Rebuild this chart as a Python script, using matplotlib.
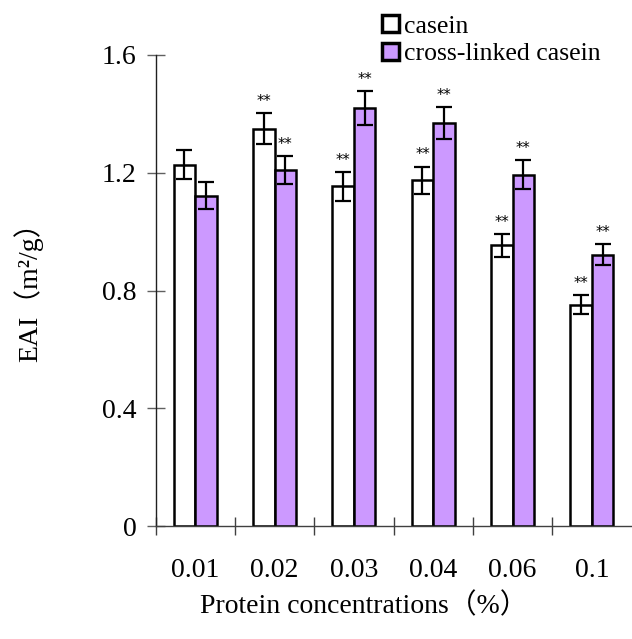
import matplotlib
matplotlib.use("Agg")
import matplotlib.pyplot as plt
import numpy as np

categories = ["0.01", "0.02", "0.03", "0.04", "0.06", "0.1"]
casein = [1.228, 1.349, 1.154, 1.174, 0.953, 0.752]
casein_err = [0.050, 0.053, 0.049, 0.047, 0.040, 0.033]
crosslinked = [1.122, 1.209, 1.419, 1.370, 1.194, 0.922]
crosslinked_err = [0.046, 0.047, 0.058, 0.054, 0.050, 0.037]
casein_sig = ["", "**", "**", "**", "**", "**"]
crosslinked_sig = ["", "**", "**", "**", "**", "**"]
yticks = [0, 0.4, 0.8, 1.2, 1.6]
ytick_labels = ["0", "0.4", "0.8", "1.2", "1.6"]

FONT = ["Liberation Serif", "Noto Sans CJK SC"]
plt.rcParams["font.family"] = FONT

fig = plt.figure(figsize=(6.32, 6.39), dpi=100)
ax = fig.add_axes([155.5 / 632, 113 / 639, 476 / 632, 471 / 639])

x = np.arange(len(categories))
w = 0.27
b1 = ax.bar(x - w / 2, casein, w, color="white", edgecolor="black", linewidth=1.8,
            label="casein", zorder=2)
b2 = ax.bar(x + w / 2, crosslinked, w, color="#CC99FF", edgecolor="black", linewidth=1.8,
            label="cross-linked casein", zorder=2)
ax.errorbar(x - w / 2, casein, yerr=casein_err, fmt="none", ecolor="black",
            elinewidth=1.6, capsize=5.8, capthick=1.6, zorder=3)
ax.errorbar(x + w / 2, crosslinked, yerr=crosslinked_err, fmt="none", ecolor="black",
            elinewidth=1.6, capsize=5.8, capthick=1.6, zorder=3)

for xi, v, e, s in zip(x - w / 2, casein, casein_err, casein_sig):
    if s:
        ax.text(xi, v + e + 0.014, s, ha="center", va="bottom", fontsize=10.5,
                family="DejaVu Sans")
for xi, v, e, s in zip(x + w / 2, crosslinked, crosslinked_err, crosslinked_sig):
    if s:
        ax.text(xi, v + e + 0.014, s, ha="center", va="bottom", fontsize=10.5,
                family="DejaVu Sans")

ax.set_xlim(-0.5, len(categories) - 0.5)
ax.set_ylim(0, 1.6)
ax.set_yticks(yticks)
ax.set_yticklabels(ytick_labels, fontsize=20)
ax.set_xticks(x)
ax.set_xticklabels(categories, fontsize=20)
ax.tick_params(axis="x", which="major", length=0, pad=23)
ax.set_xticks(np.arange(-0.5, len(categories) - 0.5, 1.0), minor=True)
ax.tick_params(axis="x", which="minor", direction="inout", length=13, width=1,
               color="#404040")
ax.tick_params(axis="y", direction="inout", length=13.5, width=1, color="#606060", pad=7)

for sp in ["top", "right"]:
    ax.spines[sp].set_visible(False)
ax.spines["left"].set_color("#202020")
ax.spines["bottom"].set_color("#404040")
ax.spines["left"].set_linewidth(1.0)
ax.spines["bottom"].set_linewidth(1.0)

fig.text(364 / 632, 1 - 606 / 639, "Protein concentrations（%）", ha="center",
         va="center", fontsize=20)
fig.text(28 / 632, 1 - 285 / 639, "EAI（m²/g）", ha="center", va="center",
         rotation=90, fontsize=20)

leg = fig.legend(handles=[b1, b2], loc="upper left",
                 bbox_to_anchor=(364 / 632, 1 + 3 / 639), frameon=False,
                 fontsize=18.5, handlelength=0.65, handleheight=0.65,
                 handletextpad=0.2, labelspacing=0.2, borderpad=0.2)
for h in leg.legend_handles:
    h.set_linewidth(2.5)

fig.savefig("out.png", dpi=100)
